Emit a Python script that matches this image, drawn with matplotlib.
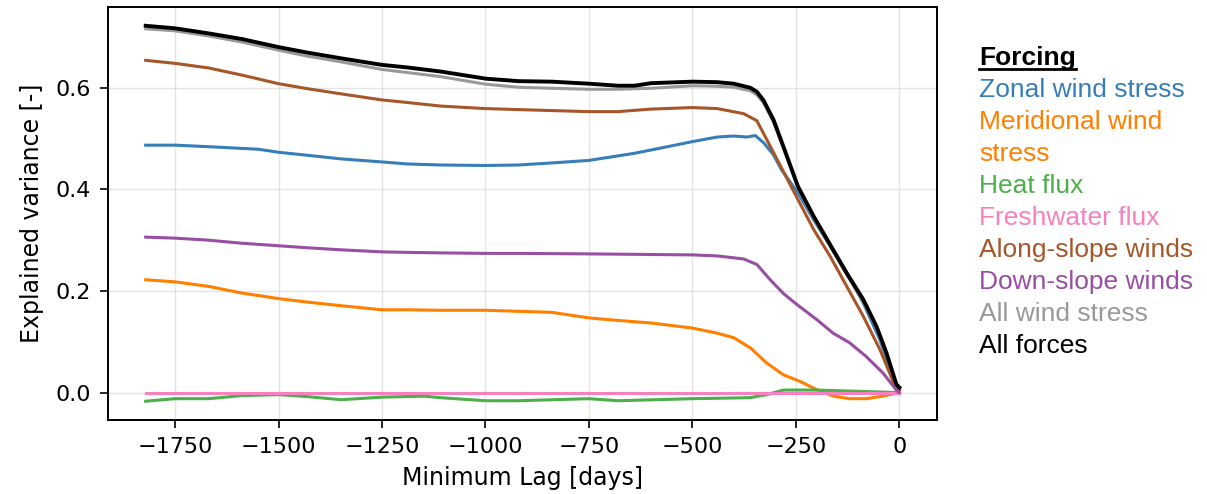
import matplotlib
matplotlib.use("Agg")
import matplotlib.pyplot as plt
from matplotlib.lines import Line2D

# Lag [days] / explained variance [-]
zonal_lag = [-1821, -1750, -1669, -1549, -1500, -1429, -1349, -1250, -1189, -1109, -1000, -920, -840,
             -750, -640, -560, -500, -440, -400, -368, -348, -327, -304, -285, -245, -207, -167,
             -127, -87, -47, -7, 0]
zonal_var = [0.487, 0.487, 0.484, 0.479, 0.473, 0.467, 0.460, 0.454, 0.450, 0.448, 0.447, 0.448, 0.452,
             0.457, 0.471, 0.484, 0.494, 0.503, 0.505, 0.503, 0.506, 0.491, 0.468, 0.439, 0.393, 0.340,
             0.288, 0.236, 0.176, 0.104, 0.009, 0.005]

merid_lag = [-1821, -1750, -1669, -1589, -1500, -1429, -1349, -1250, -1189, -1109, -1000, -920, -840,
             -750, -680, -600, -500, -440, -400, -360, -320, -280, -240, -200, -160, -120, -80, -40, 0]
merid_var = [0.222, 0.218, 0.209, 0.196, 0.185, 0.178, 0.171, 0.163, 0.163, 0.162, 0.162, 0.160, 0.158,
             0.147, 0.142, 0.137, 0.127, 0.117, 0.108, 0.088, 0.058, 0.035, 0.022, 0.006, -0.007,
             -0.012, -0.012, -0.007, 0.0]

heat_lag = [-1821, -1750, -1669, -1589, -1500, -1429, -1349, -1250, -1149, -1109, -1000, -920, -750,
            -680, -500, -360, -320, -280, -200, -120, 0]
heat_var = [-0.017, -0.012, -0.012, -0.006, -0.004, -0.008, -0.014, -0.009, -0.007, -0.010, -0.016,
            -0.016, -0.012, -0.016, -0.012, -0.010, -0.004, 0.005, 0.005, 0.003, 0.0]

fresh_lag = [-1821, 0]
fresh_var = [0.0, 0.0]

along_lag = [-1821, -1750, -1669, -1589, -1500, -1429, -1349, -1250, -1189, -1109, -1000, -920, -750,
             -680, -600, -500, -440, -376, -344, -339, -303, -245, -207, -167, -127, -87, -47, -7, 0]
along_var = [0.654, 0.648, 0.639, 0.625, 0.608, 0.598, 0.588, 0.576, 0.571, 0.564, 0.559, 0.557, 0.553,
             0.553, 0.558, 0.561, 0.559, 0.549, 0.535, 0.527, 0.471, 0.380, 0.321, 0.268, 0.209, 0.150,
             0.085, 0.006, 0.004]

down_lag = [-1821, -1750, -1669, -1589, -1500, -1429, -1349, -1250, -1189, -1109, -1000, -920, -750,
            -500, -440, -376, -344, -312, -280, -250, -200, -160, -120, -80, -40, -4, 0]
down_var = [0.306, 0.304, 0.300, 0.294, 0.289, 0.285, 0.281, 0.277, 0.276, 0.275, 0.274, 0.274, 0.273,
            0.271, 0.269, 0.263, 0.252, 0.222, 0.195, 0.175, 0.144, 0.117, 0.098, 0.071, 0.039, 0.002, 0.0]

allwind_lag = [-1821, -1750, -1669, -1589, -1500, -1429, -1349, -1250, -1189, -1109, -1000, -920, -840,
               -750, -680, -600, -500, -440, -400, -360, -344, -328, -304, -280, -245, -207, -167,
               -127, -87, -55, -31, -7, 0]
allwind_var = [0.716, 0.712, 0.702, 0.690, 0.674, 0.662, 0.651, 0.636, 0.630, 0.622, 0.607, 0.601, 0.599,
               0.597, 0.597, 0.599, 0.604, 0.603, 0.601, 0.594, 0.586, 0.570, 0.532, 0.482, 0.403, 0.343,
               0.288, 0.232, 0.179, 0.127, 0.075, 0.015, 0.010]

allforce_lag = [-1821, -1750, -1669, -1589, -1500, -1429, -1349, -1250, -1189, -1109, -1000, -920, -840,
                -750, -680, -640, -600, -500, -440, -400, -360, -344, -328, -304, -280, -245, -207,
                -167, -127, -87, -55, -31, -7, 0]
allforce_var = [0.722, 0.717, 0.707, 0.696, 0.680, 0.669, 0.658, 0.645, 0.640, 0.632, 0.618, 0.613, 0.612,
                0.608, 0.604, 0.604, 0.609, 0.612, 0.611, 0.608, 0.600, 0.592, 0.575, 0.537, 0.484, 0.406,
                0.347, 0.291, 0.235, 0.183, 0.130, 0.078, 0.016, 0.010]

labels = ['Zonal wind stress', 'Meridional wind\nstress', 'Heat flux', 'Freshwater flux',
          'Along-slope winds', 'Down-slope winds', 'All wind stress', 'All forces']
colors = ['#377eb8', '#ff7f00', '#4daf4a', '#f781bf', '#a65628', '#984ea3', '#999999', 'black']

series = [(zonal_lag, zonal_var), (merid_lag, merid_var), (heat_lag, heat_var),
          (fresh_lag, fresh_var), (along_lag, along_var), (down_lag, down_var),
          (allwind_lag, allwind_var), (allforce_lag, allforce_var)]

plt.rcParams['font.size'] = 16

fig = plt.figure(figsize=(12.07, 4.94), dpi=100)
ax = fig.add_axes([108 / 1207, 1 - 420 / 494, (937 - 108) / 1207, (420 - 7) / 494])

for (lag, var), c in zip(series, colors):
    lw = 2.8 if c == 'black' else 2.2
    ax.plot(lag, var, color=c, lw=lw)

ax.grid(True, color='#d9d9d9', lw=1, alpha=0.7)
ax.set_xlabel('Minimum Lag [days]', fontsize=17, labelpad=6)
ax.set_ylabel('Explained variance [-]', fontsize=17, labelpad=8)
ax.set_xticks([-1750, -1500, -1250, -1000, -750, -500, -250, 0])
ax.set_yticks([0.0, 0.2, 0.4, 0.6])
for s in ax.spines.values():
    s.set_linewidth(1.4)
ax.tick_params(width=1.2, length=5.5, pad=7)

# coloured text legend on the right
leg_x = 979 / 1207
title = fig.text(leg_x, 1 - 58 / 494, 'Forcing', fontsize=19, fontweight='bold',
                 family='Liberation Sans', va='center', ha='left')
line_y = [90, 122, 186, 218, 250, 282, 314, 346]
for lab, c, y in zip(labels, colors, line_y):
    if '\n' in lab:
        first, second = lab.split('\n')
        fig.text(leg_x, 1 - y / 494, first, fontsize=19, color=c, family='Liberation Sans', va='center')
        fig.text(leg_x, 1 - 154 / 494, second, fontsize=19, color=c, family='Liberation Sans', va='center')
    else:
        fig.text(leg_x, 1 - y / 494, lab, fontsize=19, color=c, family='Liberation Sans', va='center')

fig.canvas.draw()
bb = title.get_window_extent().transformed(fig.transFigure.inverted())
fig.add_artist(Line2D([bb.x0, bb.x1], [bb.y0 + 0.002, bb.y0 + 0.002], color='black', lw=2,
                      transform=fig.transFigure))

fig.savefig('out.png', dpi=100)
